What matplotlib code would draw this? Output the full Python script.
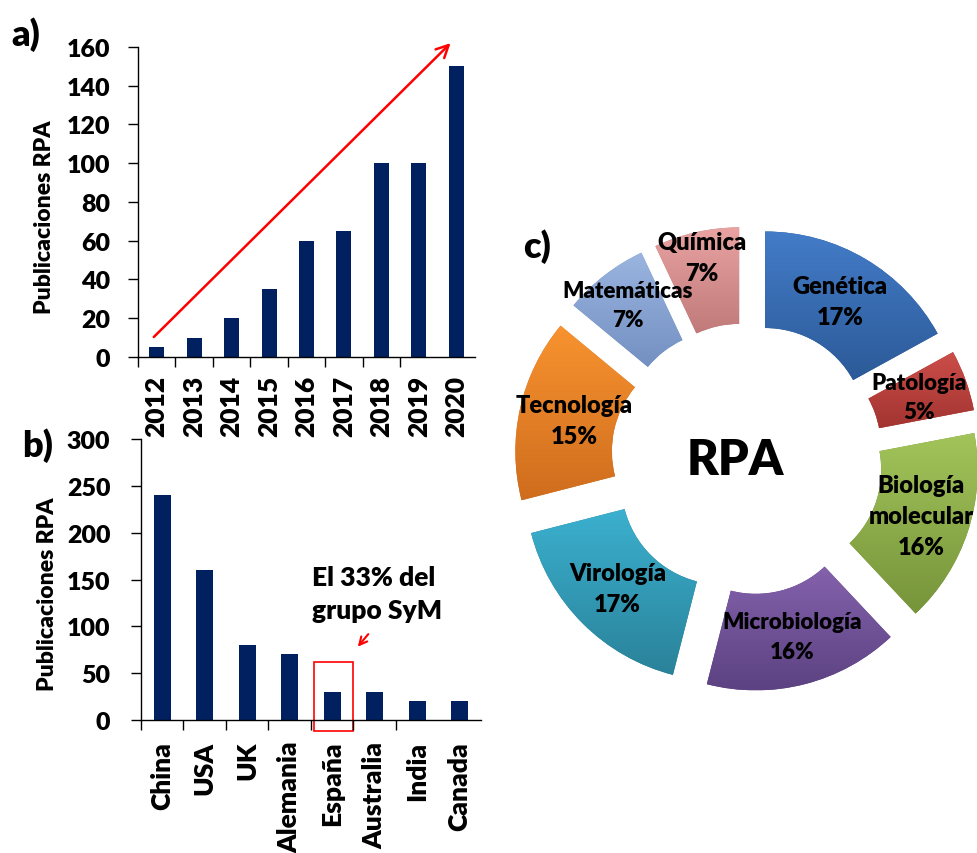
import matplotlib
matplotlib.use('Agg')
import matplotlib.pyplot as plt
import numpy as np
from matplotlib.colors import LinearSegmentedColormap
from matplotlib.patches import Rectangle

plt.rcParams['font.family'] = ['Lato', 'DejaVu Sans']
plt.rcParams['font.weight'] = 800

# a) publicaciones por año
years = ['2012', '2013', '2014', '2015', '2016', '2017', '2018', '2019', '2020']
pubs_year = [5, 10, 20, 35, 60, 65, 100, 100, 150]

# b) publicaciones por país
countries = ['China', 'USA', 'UK', 'Alemania', 'España', 'Australia', 'India', 'Canada']
pubs_country = [240, 160, 80, 70, 30, 30, 20, 20]

# c) áreas temáticas (%)
areas = ['Genética', 'Patología', 'Biología\nmolecular', 'Microbiología',
         'Virología', 'Tecnología', 'Matemáticas', 'Química']
area_pct = [17, 5, 16, 16, 17, 15, 7, 7]
area_light = ['#437CC8', '#CC4E4A', '#A2C45A', '#8462AC', '#3BB0CF', '#F8932F', '#9BB5E0', '#E8A3A2']
area_dark = ['#2C5A98', '#A23430', '#76943A', '#5C4282', '#2A8299', '#CF6D1E', '#7390C2', '#C07A79']

bar_color = '#002060'
W = 800  # peso de la letra

fig = plt.figure(figsize=(9.77, 8.54), dpi=100)


def style_bar_axes(ax, n, xpad, ypad):
    for s in ['top', 'right']:
        ax.spines[s].set_visible(False)
    for s in ['left', 'bottom']:
        ax.spines[s].set_linewidth(1.0)
    ax.set_xlim(-0.5, n - 0.5)
    ax.set_xticks(np.arange(n))
    ax.set_xticks(np.arange(n - 1) - 0.5, minor=True)
    ax.tick_params(axis='x', which='major', length=0, pad=xpad, labelsize=19)
    ax.tick_params(axis='x', which='minor', length=7, width=1.0, direction='out')
    ax.tick_params(axis='y', length=7, width=1.0, pad=ypad, labelsize=18)


# ---- a) ----
ax1 = fig.add_axes([0.1412, 0.5808, 0.345, 0.363])
x1 = np.arange(len(years))
ax1.bar(x1, pubs_year, width=0.4, color=bar_color)
style_bar_axes(ax1, len(years), 13, 13)
ax1.set_xticklabels(years, rotation=90, fontweight=W)
ax1.set_ylim(0, 160)
ax1.set_yticks(range(0, 161, 20))
ax1.set_ylabel('Publicaciones RPA', fontsize=16.5, fontweight=W)
ax1.yaxis.set_label_coords(-0.245, 0.455)
ax1.annotate('', xy=(7.9, 163), xytext=(-0.13, 9.3),
             arrowprops=dict(arrowstyle='->', color='#FF0000', lw=1.8, mutation_scale=22),
             annotation_clip=False)
fig.text(11 / 977, 1 - 35 / 854, 'a)', fontsize=26, fontweight=W, ha='left', va='center')

# ---- b) ----
ax2 = fig.add_axes([0.1443, 0.1557, 0.348, 0.329])
x2 = np.arange(len(countries))
ax2.bar(x2, pubs_country, width=0.39, color=bar_color)
style_bar_axes(ax2, len(countries), 15, 15)
ax2.set_xticklabels(countries, rotation=90, fontweight=W)
ax2.set_ylim(0, 300)
ax2.set_yticks(range(0, 301, 50))
ax2.set_ylabel('Publicaciones RPA', fontsize=16.5, fontweight=W)
ax2.yaxis.set_label_coords(-0.245, 0.45)
ax2.add_patch(Rectangle((3.57, -12), 0.92, 74, fill=False, edgecolor='#FF0000',
                        lw=1.2, clip_on=False))
ax2.text(3.52, 166, 'El 33% del\ngrupo SyM', fontsize=19, fontweight=W,
         ha='left', va='top', linespacing=1.45)
ax2.annotate('', xy=(4.56, 76), xytext=(4.89, 94),
             arrowprops=dict(arrowstyle='->', color='#FF0000', lw=1.5, mutation_scale=14),
             annotation_clip=False)
fig.text(22 / 977, 1 - 446 / 854, 'b)', fontsize=26, fontweight=W, ha='left', va='center')

# ---- c) ----
ax3 = fig.add_axes([0.5015, 0.1569, 0.4985, 0.6089])
wedges, _ = ax3.pie(area_pct, startangle=90, counterclock=False, radius=1.0,
                    explode=[0.18] * len(area_pct),
                    colors=area_dark,
                    wedgeprops=dict(width=0.49, edgecolor='none'))
ax3.set_aspect('auto')
ax3.axis('off')

label_r = [0.75, 0.75, 0.75, 0.75, 0.75, 0.72, 0.81, 0.87]
label_fs = [17, 16, 17, 16, 17, 17, 16, 17]
for w, name, pct, c1, c2, r, fs in zip(wedges, areas, area_pct, area_light, area_dark,
                                        label_r, label_fs):
    # degradado vertical dentro de cada sector
    ext = w.get_path().get_extents()
    cmap = LinearSegmentedColormap.from_list('g', [c2, c1])
    grad = np.linspace(0, 1, 256).reshape(-1, 1)
    im = ax3.imshow(grad, cmap=cmap, origin='lower', aspect='auto',
                    extent=[ext.x0, ext.x1, ext.y0, ext.y1], zorder=2)
    im.set_clip_path(w)
    mid = np.deg2rad((w.theta1 + w.theta2) / 2)
    cx, cy = w.center
    ax3.text(cx + r * np.cos(mid), cy + r * np.sin(mid), f'{name}\n{pct}%',
             ha='center', va='center', fontsize=fs, fontweight=W,
             linespacing=1.5, zorder=5)

ax3.set_xlim(-1.3046, 1.1675)
ax3.set_ylim(-1.3198, 1.3198)
ax3.text(-0.06, 0.0, 'RPA', fontsize=35, fontweight=W, ha='center', va='center')
fig.text(523 / 977, 1 - 247 / 854, 'c)', fontsize=26, fontweight=W, ha='left', va='center')

fig.savefig('out.png', dpi=100)
